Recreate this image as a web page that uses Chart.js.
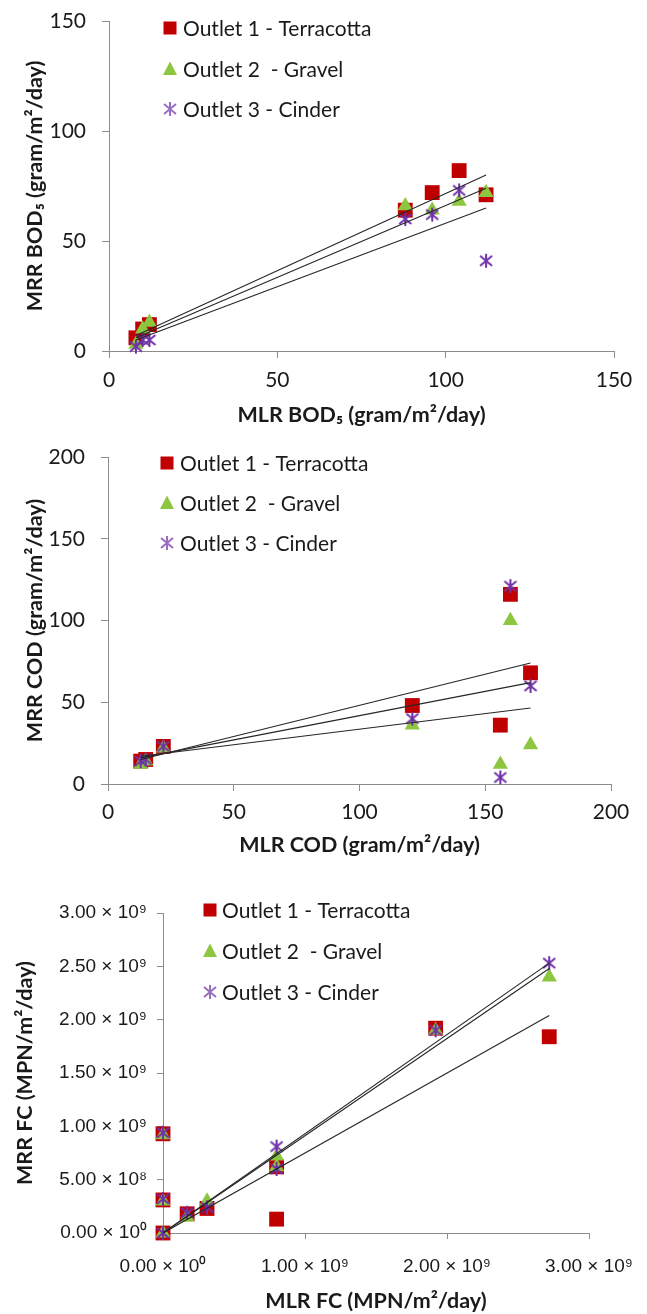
<!DOCTYPE html>
<html>
<head>
<meta charset="utf-8">
<script src="https://cdn.jsdelivr.net/npm/chart.js@4/dist/chart.umd.min.js"></script>
<style>
  html, body { margin: 0; padding: 0; background: #fff; }
  .box { position: absolute; left: 0; width: 647px; }
</style>
</head>
<body>
<div class="box" style="top:0;height:430px"><canvas id="bod"></canvas></div>
<div class="box" style="top:430px;height:430px"><canvas id="cod"></canvas></div>
<div class="box" style="top:860px;height:454px"><canvas id="fc"></canvas></div>
<script>
// series names
const outletNames = ['Outlet 1 - Terracotta', 'Outlet 2  - Gravel', 'Outlet 3 - Cinder'];

// BOD5 panel (gram/m2/day)
const bodMLR = [8, 10, 12, 88, 96, 104, 112];
const bodTerracotta = [6, 10, 12, 64, 72, 82, 71];
const bodGravel = [3, 10, 13, 66, 64, 68, 72];
const bodCinder = [2, 5, 5, 60, 62, 73, 41];
const bodFitX = [8, 112];
const bodFitTerracotta = [7, 80];
const bodFitGravel = [6, 74];
const bodFitCinder = [5, 65];

// COD panel (gram/m2/day)
const codMLR = [13, 15, 22, 121, 156, 160, 168];
const codTerracotta = [14, 15, 23, 48, 36, 116, 68];
const codGravel = [12, 14, 22, 36, 12, 100, 24];
const codCinder = [14, 15, 23, 40, 4, 121, 60];
const codFitX = [13, 168];
const codFitTerracotta = [15, 74];
const codFitGravel = [17, 46.5];
const codFitCinder = [16, 62];

// FC panel (MPN/m2/day)
const fcMLR = [0, 0, 0, 0.17e9, 0.31e9, 0.8e9, 0.8e9, 1.92e9, 2.72e9];
const fcTerracotta = [0, 0.31e9, 0.93e9, 0.18e9, 0.23e9, 0.62e9, 0.13e9, 1.92e9, 1.84e9];
const fcGravel = [0, 0.30e9, 0.92e9, 0.15e9, 0.30e9, 0.72e9, 0.62e9, 1.90e9, 2.40e9];
const fcCinder = [0, 0.32e9, 0.94e9, 0.19e9, 0.24e9, 0.81e9, 0.60e9, 1.90e9, 2.53e9];
const fcFitX = [0, 2.72e9];
const fcFitTerracotta = [0, 2.04e9];
const fcFitGravel = [0, 2.48e9];
const fcFitCinder = [0, 2.53e9];
const fcXTickLabels = ['0.00 × 10⁰', '1.00 × 10⁹', '2.00 × 10⁹', '3.00 × 10⁹'];
const fcYTickLabels = ['0.00 × 10⁰', '5.00 × 10⁸', '1.00 × 10⁹', '1.50 × 10⁹', '2.00 × 10⁹', '2.50 × 10⁹', '3.00 × 10⁹'];

const RED = '#c00000', GREEN = '#8dc63f', PURPLE = '#6f30a8';
const AXIS = '#8c8c8c';
const TEXT = '#1a1a1a';

// asterisk marker (vertical bar + X), Excel style
function asterisk(size, color) {
  const c = document.createElement('canvas');
  c.width = size; c.height = size;
  const g = c.getContext('2d');
  g.strokeStyle = color; g.lineWidth = 2; g.lineCap = 'butt';
  const m = size / 2;
  g.beginPath();
  g.moveTo(m, 1); g.lineTo(m, size - 1);
  g.moveTo(2, 3); g.lineTo(size - 2, size - 3);
  g.moveTo(size - 2, 3); g.lineTo(2, size - 3);
  g.stroke();
  return c;
}
const starImg = asterisk(16, PURPLE);

const pts = (xs, ys) => xs.map((x, i) => ({x: x, y: ys[i]}));

function fitLine(xs, ys) {
  return {type: 'scatter', data: pts(xs, ys), showLine: true, borderColor: '#262626', borderWidth: 1.1,
          pointRadius: 0, order: 0};
}

function markers(xs, ys, k) {
  const styles = ['rect', 'triangle', starImg];
  const colors = [RED, GREEN, PURPLE];
  const radius = [10.5, 8.8, 8];
  return {label: outletNames[k], data: pts(xs, ys), pointStyle: styles[k], pointRadius: radius[k],
          pointHoverRadius: radius[k], backgroundColor: colors[k], borderColor: colors[k], borderWidth: 0,
          showLine: false, clip: false, order: 3 - k};
}

// legend drawn inside the plot, top-left
const outletLegend = {
  id: 'outletLegend',
  afterDraw(chart, args, o) {
    const ctx = chart.ctx;
    ctx.save();
    ctx.font = o.fontSize + 'px Lato';
    ctx.textBaseline = 'middle';
    outletNames.forEach((name, k) => {
      const y = o.ys[k], x = o.x;
      if (k === 0) {
        ctx.fillStyle = RED; ctx.fillRect(x - 6.5, y - 6.5, 13, 13);
      } else if (k === 1) {
        ctx.fillStyle = GREEN; ctx.beginPath();
        ctx.moveTo(x, y - 7.5); ctx.lineTo(x + 7, y + 6); ctx.lineTo(x - 7, y + 6); ctx.closePath(); ctx.fill();
      } else {
        ctx.globalAlpha = 0.7; ctx.drawImage(starImg, x - 8, y - 8); ctx.globalAlpha = 1;
      }
      ctx.fillStyle = TEXT;
      ctx.fillText(name, o.textX, y + 1);
    });
    ctx.restore();
  }
};

function axis(c) {
  return {
    type: 'linear', min: c.min, max: c.max,
    afterFit: s => {
      if (c.width) s.width = c.width;
      if (c.height) s.height = c.height;
      s.paddingTop = 0; s.paddingBottom = 0; s.paddingLeft = 0; s.paddingRight = 0;
    },
    ticks: {stepSize: c.step, autoSkip: false, maxRotation: 0, color: TEXT, padding: c.pad,
            font: {family: c.family, size: c.size}, callback: c.labels ? (v, i) => c.labels[i] : v => v},
    grid: {display: true, drawOnChartArea: false, drawTicks: true, tickLength: c.tl, color: AXIS, lineWidth: 1},
    border: {display: true, color: AXIS, width: 1},
    title: {display: true, text: c.title, color: TEXT, font: {family: 'Lato', size: 21.5, weight: 'bold'},
            padding: c.titlePad}
  };
}

function panel(id, p) {
  return new Chart(document.getElementById(id), {
    type: 'scatter',
    data: {datasets: [
      fitLine(p.fitX, p.fits[0]), fitLine(p.fitX, p.fits[1]), fitLine(p.fitX, p.fits[2]),
      markers(p.x, p.series[0], 0), markers(p.x, p.series[1], 1), markers(p.x, p.series[2], 2)
    ]},
    options: {
      responsive: true, maintainAspectRatio: false, animation: false,
      layout: {padding: {top: p.top, right: p.right, left: 0, bottom: 0}},
      plugins: {legend: {display: false}, tooltip: {enabled: false}, outletLegend: p.legend},
      scales: {x: axis(p.xAxis), y: axis(p.yAxis)}
    },
    plugins: [outletLegend]
  });
}

panel('bod', {
  x: bodMLR, series: [bodTerracotta, bodGravel, bodCinder],
  fitX: bodFitX, fits: [bodFitTerracotta, bodFitGravel, bodFitCinder],
  top: 21, right: 33,
  legend: {x: 170, textX: 183, ys: [28, 69, 109], fontSize: 21},
  xAxis: {min: 0, max: 150, step: 50, height: 79, tl: 7, pad: 10, family: 'Lato', size: 21,
          title: 'MLR BOD₅ (gram/m²/day)', titlePad: {top: 0, bottom: 2}},
  yAxis: {min: 0, max: 150, step: 50, width: 109, tl: 7, pad: 16, family: 'Lato', size: 21,
          title: 'MRR BOD₅ (gram/m²/day)', titlePad: {top: 22, bottom: 0}}
});

panel('cod', {
  x: codMLR, series: [codTerracotta, codGravel, codCinder],
  fitX: codFitX, fits: [codFitTerracotta, codFitGravel, codFitCinder],
  top: 27, right: 36,
  legend: {x: 167, textX: 180, ys: [33, 73, 113], fontSize: 21},
  xAxis: {min: 0, max: 200, step: 50, height: 76, tl: 7, pad: 9, family: 'Lato', size: 21,
          title: 'MLR COD (gram/m²/day)', titlePad: {top: 0, bottom: 2}},
  yAxis: {min: 0, max: 200, step: 50, width: 108, tl: 7, pad: 16, family: 'Lato', size: 21,
          title: 'MRR COD (gram/m²/day)', titlePad: {top: 22, bottom: 0}}
});

panel('fc', {
  x: fcMLR, series: [fcTerracotta, fcGravel, fcCinder],
  fitX: fcFitX, fits: [fcFitTerracotta, fcFitGravel, fcFitCinder],
  top: 53, right: 58,
  legend: {x: 210, textX: 222, ys: [50, 91, 132], fontSize: 21},
  xAxis: {min: 0, max: 3e9, step: 1e9, height: 81, tl: 6, pad: 16, family: 'Liberation Sans', size: 19,
          labels: fcXTickLabels, title: 'MLR FC (MPN/m²/day)', titlePad: {top: 0, bottom: 0}},
  yAxis: {min: 0, max: 3e9, step: 5e8, width: 163, tl: 6, pad: 10, family: 'Liberation Sans', size: 19,
          labels: fcYTickLabels, title: 'MRR FC (MPN/m²/day)', titlePad: {top: 12, bottom: 0}}
});
</script>
</body>
</html>
